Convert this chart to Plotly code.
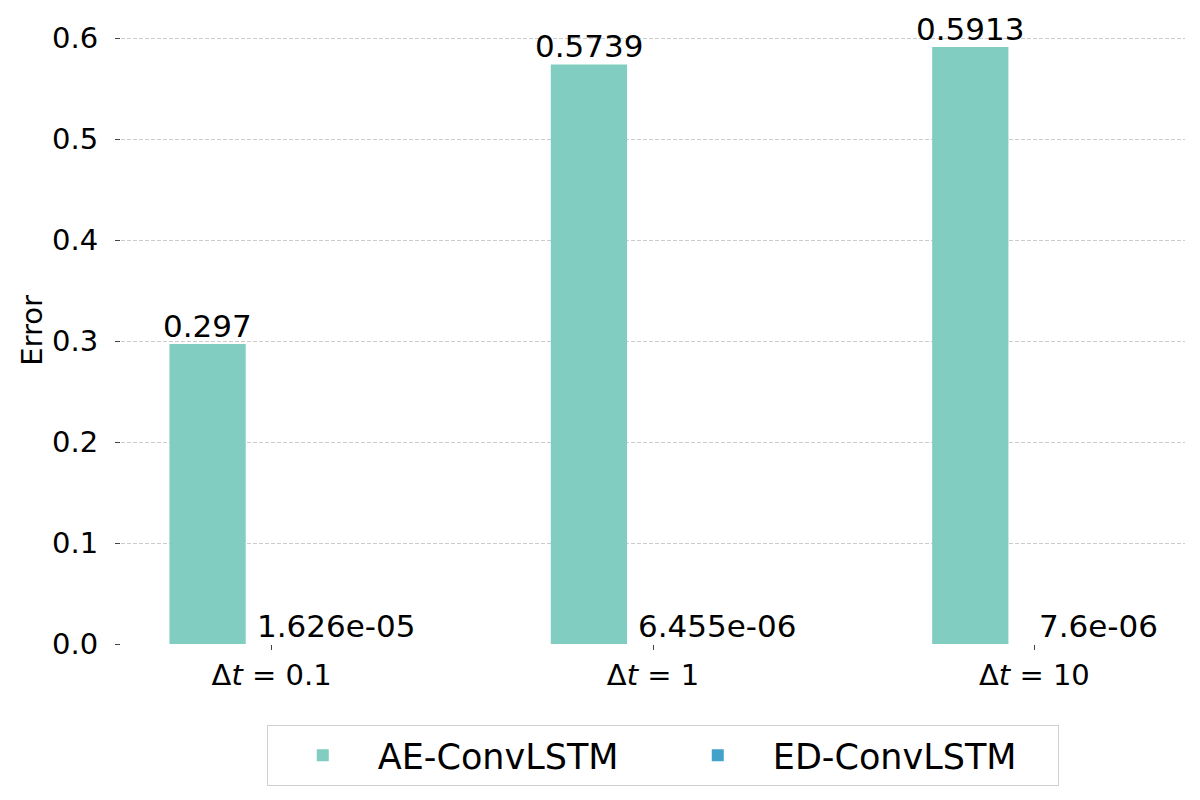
import plotly.graph_objects as go

categories = ["Δ<i>t</i> = 0.1", "Δ<i>t</i> = 1", "Δ<i>t</i> = 10"]
series_names = ["AE-ConvLSTM", "ED-ConvLSTM"]
ae_values = [0.297, 0.5739, 0.5913]
ed_values = [1.626e-05, 6.455e-06, 7.6e-06]
y_ticks = [0.0, 0.1, 0.2, 0.3, 0.4, 0.5, 0.6]

colors = ["rgba(130,205,193,0.999)", "rgba(67,162,202,0.999)"]
FONT = "DejaVu Sans"
bar_w = 0.2
shift = 0.168

xs = list(range(len(categories)))
fig = go.Figure()
for name, vals, col, sgn in [(series_names[0], ae_values, colors[0], -1),
                             (series_names[1], ed_values, colors[1], 1)]:
    fig.add_trace(go.Bar(
        x=xs, y=vals, name=name, marker=dict(color=col, line=dict(width=0)),
        width=bar_w, offset=sgn * shift - bar_w / 2,
    ))
    for x, v in zip(xs, vals):
        fig.add_annotation(x=x + sgn * shift, y=v, text=f"{v:.4g}", showarrow=False,
                           xanchor="center", yanchor="bottom", yshift=-2,
                           font=dict(family=FONT, size=31, color="black"))

# page body has an 8px margin, so the figure is offset; margins compensate
fig.update_layout(
    width=1200, height=800,
    margin=dict(l=113, r=23, t=9, b=164, autoexpand=False),
    plot_bgcolor="white", paper_bgcolor="white",
    font=dict(family=FONT, size=29, color="black"),
    barmode="overlay",
    showlegend=True,
    legend=dict(orientation="h", x=0.137, xanchor="left", y=-0.129, yanchor="top",
                font=dict(family=FONT, size=35), bordercolor="#d0d0d0", borderwidth=1,
                itemwidth=100, entrywidth=280),
)
fig.update_xaxes(range=[-0.395, 2.395], tickvals=xs, ticktext=categories,
                 showgrid=False, zeroline=False, showline=False, automargin=False,
                 ticks="outside", ticklen=5, tickcolor="#444", tickwidth=1,
                 tickfont=dict(family=FONT, size=29))
fig.update_yaxes(range=[0, 0.6209], tickvals=y_ticks, ticktext=[f"{t:.1f}" for t in y_ticks],
                 showgrid=True, gridcolor="#cccccc", griddash="4px,2px", gridwidth=0.8,
                 zeroline=False, showline=False, automargin=False,
                 ticks="outside", ticklen=5, tickcolor="#444", tickwidth=1,
                 ticklabelstandoff=11,
                 tickfont=dict(family=FONT, size=29),
                 title=dict(text="Error", font=dict(family=FONT, size=29), standoff=0))

fig.write_html("out.html")
